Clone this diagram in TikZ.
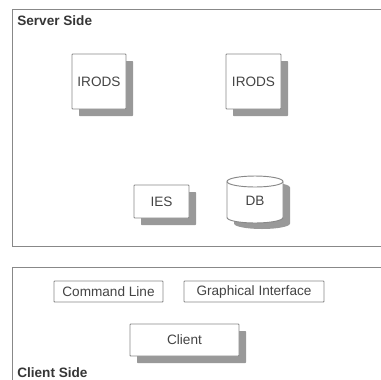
\documentclass[tikz,border=0pt]{standalone}
\usepackage{fontspec}
\setmainfont{Liberation Sans}
\usetikzlibrary{shadows}
\definecolor{linegray}{HTML}{888888}
\definecolor{shadowgray}{HTML}{999999}
\definecolor{textgray}{HTML}{444444}
\begin{document}
\begin{tikzpicture}[x=0.75pt,y=-0.75pt,
  font=\fontsize{10.2pt}{12pt}\selectfont,
  frame/.style={draw=linegray,line width=0.75pt},
  box/.style={draw=linegray,fill=white,line width=0.7pt,text=textgray,inner sep=0pt,rounded corners=0.5pt},
  shadowed/.style={drop shadow={shadow xshift=5.25pt,shadow yshift=-5.25pt,fill=shadowgray,opacity=1}},
  title/.style={font=\fontsize{10.2pt}{12pt}\selectfont\bfseries,text=textgray!80!black,anchor=base west,inner sep=0pt}]
\useasboundingbox (0,0) rectangle (381,379);
% Server frame
\coordinate (s1) at (385,9);
\coordinate (s2) at (12,9);
\coordinate (s3) at (12,246);
\coordinate (s4) at (385,246);
\draw[frame] (s1) -- (s2) -- (s3) -- (s4);
\node[title] (serverlbl) at (17,25) {Server Side};
% IRODS boxes
\node[box,shadowed,minimum width=40.5pt,minimum height=41.25pt] (irods1) at (99,81.5) {IRODS};
\node[box,shadowed,minimum width=41.25pt,minimum height=41.25pt] (irods2) at (253.5,81.5) {IRODS};
% IES
\node[box,shadowed,minimum width=41.25pt,minimum height=24.75pt] (ies) at (161.5,201.5) {IES};
% DB cylinder
\fill[shadowgray] (234,187.5) -- (234,223.5) arc[start angle=180,end angle=360,x radius=21pt,y radius=4.125pt] -- (290,187.5) arc[start angle=0,end angle=180,x radius=21pt,y radius=4.125pt] -- cycle;
\filldraw[draw=linegray,fill=white,line width=0.7pt] (227,181.5) -- (227,217.5) arc[start angle=180,end angle=360,x radius=21pt,y radius=4.125pt] -- (283,181.5) arc[start angle=0,end angle=180,x radius=21pt,y radius=4.125pt] -- cycle;
\draw[draw=linegray,line width=0.7pt] (227,181.5) arc[start angle=180,end angle=360,x radius=21pt,y radius=4.125pt];
\node[text=textgray,inner sep=0pt] (db) at (255,201) {DB};
% Client frame
\coordinate (c1) at (385,267);
\coordinate (c2) at (12,267);
\coordinate (c3) at (12,385);
\draw[frame] (c1) -- (c2) -- (c3);
\node[box,minimum width=81.75pt,minimum height=15.75pt] (cmd) at (108.5,291.5) {Command Line};
\node[box,minimum width=105pt,minimum height=15.75pt] (gui) at (254,291.5) {Graphical Interface};
\node[box,shadowed,minimum width=81.75pt,minimum height=24pt] (client) at (184.5,340) {Client};
\node[title] (clientlbl) at (17,377) {Client Side};
\end{tikzpicture}
\end{document}
